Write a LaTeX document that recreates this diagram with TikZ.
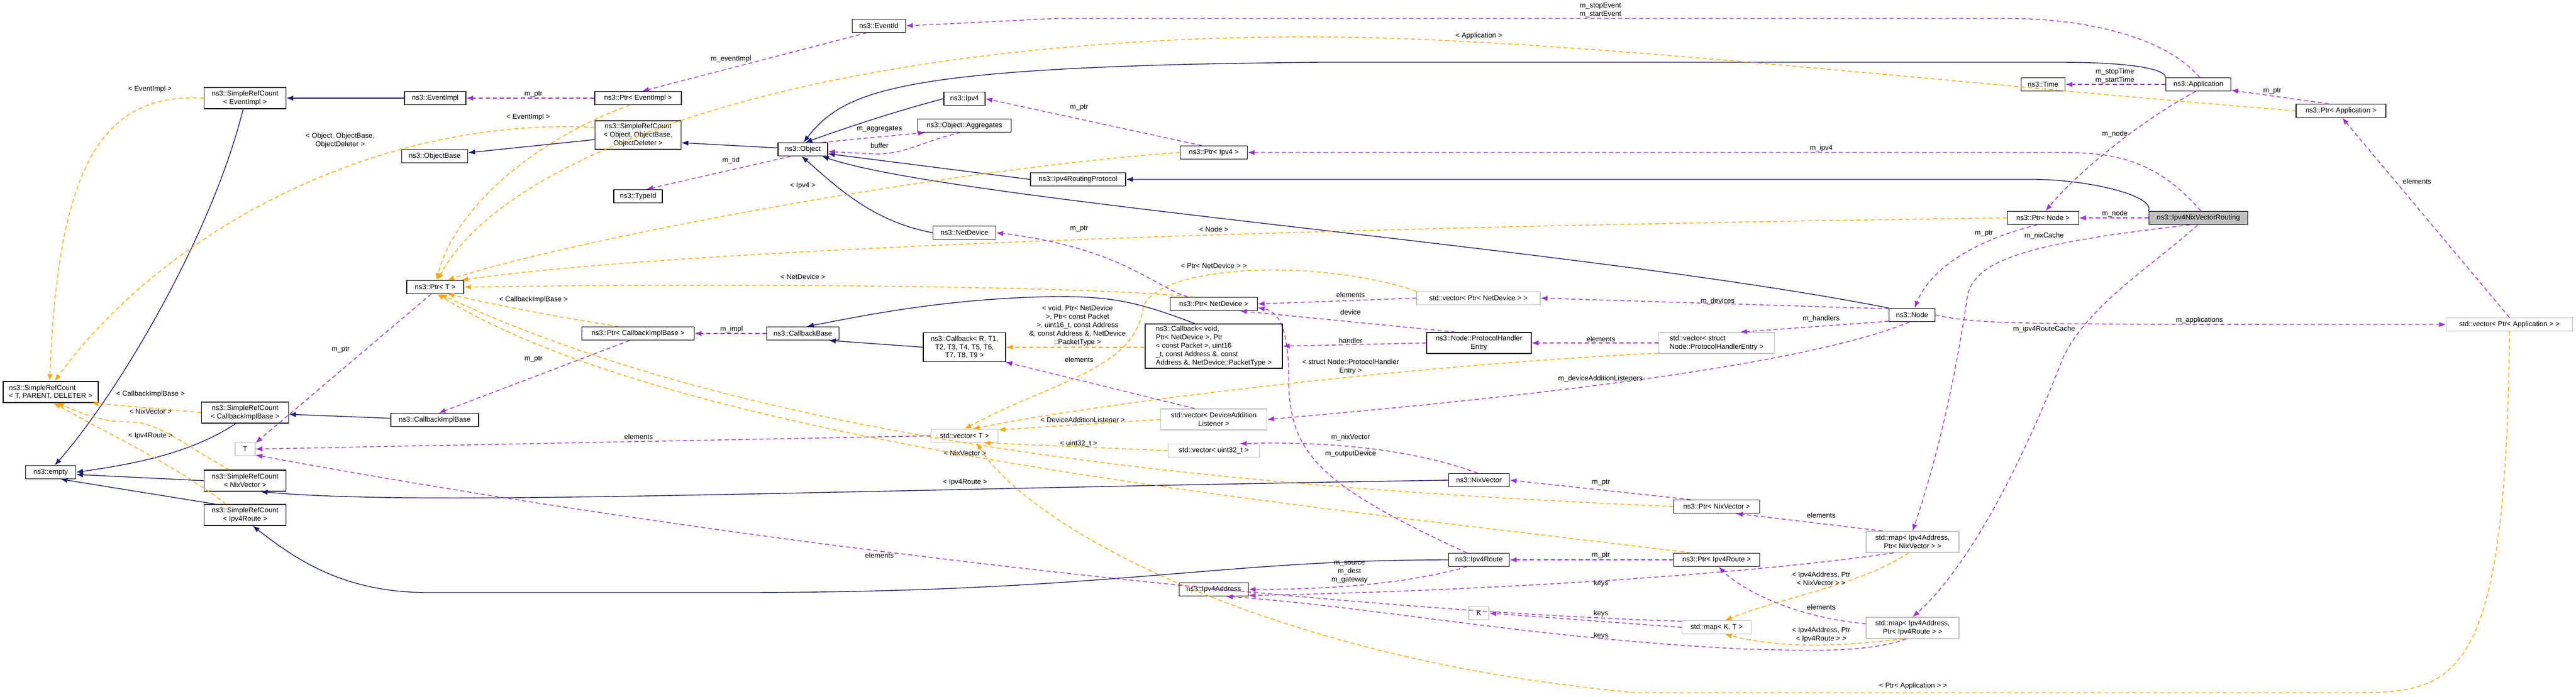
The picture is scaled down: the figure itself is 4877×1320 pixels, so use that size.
\documentclass[tikz,border=0pt]{standalone}
\usepackage{fontspec}
\setmainfont{Liberation Sans}
\usetikzlibrary{arrows.meta}
\definecolor{inhc}{HTML}{191970}
\definecolor{usec}{HTML}{9A32CD}
\definecolor{tplc}{HTML}{FFA500}
\definecolor{extc}{HTML}{BFBFBF}
\tikzset{
 cls/.style={draw=black,fill=white,line width=0.8pt,inner sep=0pt,align=center,font=\fontsize{7.6}{9}\selectfont},
 ext/.style={cls,draw=extc},
 mainc/.style={cls,fill=extc},
 wd/.style={minimum width=#1*0.02cm},
 ht/.style={minimum height=#1*0.02cm},
 lbl/.style={inner sep=0pt,align=center,font=\fontsize{7.6}{9}\selectfont},
 inh/.style={draw=inhc,line width=0.8pt,-{Latex[length=2.6mm,width=2mm]}},
 use/.style={draw=usec,line width=0.8pt,dash pattern=on 4.5pt off 3pt,-{Latex[length=2.6mm,width=2mm]}},
 tpl/.style={draw=tplc,line width=0.8pt,dash pattern=on 4.5pt off 3pt,-{Latex[length=2.6mm,width=2mm]}},
}
\begin{document}
\begin{tikzpicture}[x=0.02cm,y=-0.02cm]
\useasboundingbox[fill=white] (0,0) rectangle (4877,1320);
% nodes
\node[cls,wd=155,ht=40] (srcE) at (464,186) {ns3::SimpleRefCount\\< EventImpl >};
\node[cls,wd=116,ht=25] (eimpl) at (824,186) {ns3::EventImpl};
\node[cls,wd=125,ht=25] (obase) at (823,296) {ns3::ObjectBase};
\node[cls,wd=108,ht=25] (ptrT) at (824,544) {ns3::Ptr< T >};
\node[cls,wd=180,ht=40,align=left] (srcTPD) at (96,743) {ns3::SimpleRefCount\\< T, PARENT, DELETER >};
\node[cls,wd=165,ht=40] (srcCIB) at (464,782) {ns3::SimpleRefCount\\< CallbackImplBase >};
\node[cls,wd=166,ht=25] (cib) at (823,796) {ns3::CallbackImplBase};
\node[ext,wd=38,ht=25] (T) at (464,851) {T};
\node[cls,wd=95,ht=25] (empty) at (96,895) {ns3::empty};
\node[cls,wd=155,ht=40] (srcNix) at (464,911) {ns3::SimpleRefCount\\< NixVector >};
\node[cls,wd=155,ht=40] (srcRoute) at (464,976) {ns3::SimpleRefCount\\< Ipv4Route >};
\node[cls,wd=101,ht=25] (eventid) at (1664,49) {ns3::EventId};
\node[cls,wd=164,ht=25] (ptrEI) at (1208,186) {ns3::Ptr< EventImpl >};
\node[cls,wd=163,ht=54] (srcObj) at (1208,256) {ns3::SimpleRefCount\\< Object, ObjectBase,\\ObjectDeleter >};
\node[cls,wd=94,ht=25] (obj) at (1520,283) {ns3::Object};
\node[cls,wd=78,ht=25] (ipv4) at (1826,187) {ns3::Ipv4};
\node[cls,wd=177,ht=25] (aggr) at (1826,238) {ns3::Object::Aggregates};
\node[cls,wd=92,ht=25] (typeid) at (1208,372) {ns3::TypeId};
\node[cls,wd=119,ht=25] (netdev) at (1826,441) {ns3::NetDevice};
\node[cls,wd=180,ht=25] (irp) at (2041,340) {ns3::Ipv4RoutingProtocol};
\node[cls,wd=213,ht=25] (ptrCIB) at (1208,632) {ns3::Ptr< CallbackImplBase >};
\node[cls,wd=137,ht=25] (cbbase) at (1520,632) {ns3::CallbackBase};
\node[cls,wd=156,ht=55] (cbR) at (1826,658) {ns3::Callback< R, T1,\\T2, T3, T4, T5, T6,\\T7, T8, T9 >};
\node[ext,wd=127,ht=25] (vecT) at (1826,826) {std::vector< T >};
\node[cls,wd=127,ht=25] (ptrIpv4) at (2298,289) {ns3::Ptr< Ipv4 >};
\node[cls,wd=165,ht=25] (ptrND) at (2298,576) {ns3::Ptr< NetDevice >};
\node[cls,wd=260,ht=84,align=left] (cbV) at (2298,656) {ns3::Callback< void,\\ Ptr< NetDevice >, Ptr\\< const Packet >, uint16\\\_t, const Address \&, const\\ Address \&, NetDevice::PacketType >};
\node[ext,wd=234,ht=25] (vecPND) at (2799,565) {std::vector< Ptr< NetDevice > >};
\node[cls,wd=198,ht=40] (phe) at (2800,650) {ns3::Node::ProtocolHandler\\Entry};
\node[ext,wd=201,ht=40] (vecDAL) at (2298,795) {std::vector< DeviceAddition\\Listener >};
\node[ext,wd=173,ht=25] (vecU) at (2298,854) {std::vector< uint32\_t >};
\node[cls,wd=115,ht=25] (nix) at (2800,910) {ns3::NixVector};
\node[cls,wd=115,ht=25] (route) at (2800,1061) {ns3::Ipv4Route};
\node[cls,wd=131,ht=25] (addr) at (2298,1117) {ns3::Ipv4Address};
\node[ext,wd=38,ht=25] (K) at (2800,1162) {K};
\node[cls,wd=83,ht=25] (time) at (3868,160) {ns3::Time};
\node[cls,wd=135,ht=25] (ptrNode) at (3868,413) {ns3::Ptr< Node >};
\node[cls,wd=87,ht=25] (node) at (3620,597) {ns3::Node};
\node[ext,wd=219,ht=40,align=left] (vecPHE) at (3250,650) {std::vector< struct\\ Node::ProtocolHandlerEntry >};
\node[cls,wd=163,ht=25] (ptrNix) at (3250,960) {ns3::Ptr< NixVector >};
\node[cls,wd=163,ht=25] (ptrRoute) at (3250,1061) {ns3::Ptr< Ipv4Route >};
\node[ext,wd=176,ht=40] (mapNix) at (3621,1027) {std::map< Ipv4Address,\\Ptr< NixVector > >};
\node[ext,wd=176,ht=40] (mapRoute) at (3621,1190) {std::map< Ipv4Address,\\Ptr< Ipv4Route > >};
\node[ext,wd=131,ht=25] (mapKT) at (3250,1189) {std::map< K, T >};
\node[cls,wd=123,ht=25] (app) at (4162,160) {ns3::Application};
\node[cls,wd=170,ht=25] (ptrApp) at (4432,210) {ns3::Ptr< Application >};
\node[mainc,wd=187,ht=25] (nvr) at (4162,413) {ns3::Ipv4NixVectorRouting};
\node[ext,wd=239,ht=25] (vecApp) at (4751,615) {std::vector< Ptr< Application > >};

% inheritance
\draw[inh] (eimpl) -- (srcE);
\draw[inh] (srcE.-100) .. controls (400,450) and (220,750) .. (empty.60);
\draw[inh] (srcCIB.-130) .. controls (360,860) and (250,880) .. (empty.east);
\draw[inh] (cib) -- (srcCIB);
\draw[inh] (srcNix.west) -- (empty.-5);
\draw[inh] (srcRoute.160) -- (empty.-35);
\draw[inh] (nix.west) .. controls (1500,930) and (800,960) .. (srcNix.-35);
\draw[inh] (route.west) .. controls (2300,1061) and (2100,1123) .. (1400,1123) -- (810,1123) .. controls (650,1123) and (560,1060) .. (srcRoute.-55);
\draw[inh] (srcObj) -- (obase);
\draw[inh] (obj) -- (srcObj.-10);
\draw[inh] (ipv4.west) .. controls (1680,215) and (1580,250) .. (obj.70);
\draw[inh] (app.north west) .. controls (4100,130) and (4030,118) .. (3900,118) -- (2500,118) .. controls (1700,125) and (1600,170) .. (obj.85);
\draw[inh] (irp.west) -- (obj.-10);
\draw[inh] (node.north west) .. controls (3000,470) and (1800,380) .. (obj.-20);
\draw[inh] (netdev.west) .. controls (1650,420) and (1580,350) .. (obj.-100);
\draw[inh] (nvr.north west) .. controls (4080,370) and (3950,340) .. (3850,340) -- (irp.east);
\draw[inh] (cbR.west) -- (cbbase.-15);
\draw[inh] (cbV.130) .. controls (2150,570) and (2100,562) .. (2000,562) .. controls (1800,565) and (1650,595) .. (cbbase.60);

% template instances
\draw[tpl] (srcE.west) .. controls (200,176) and (110,300) .. (srcTPD.95);
\node[lbl] at (284,169) {< EventImpl >};
\draw[tpl] (srcObj.170) .. controls (700,220) and (300,450) .. (srcTPD.70);
\node[lbl] at (644,266) {< Object, ObjectBase,\\ObjectDeleter >};
\draw[tpl] (srcCIB.west) -- (srcTPD.-15);
\node[lbl] at (285,747) {< CallbackImplBase >};
\draw[tpl] (srcNix.145) .. controls (360,850) and (300,800) .. (250,800) .. controls (200,800) and (170,790) .. (srcTPD.-60);
\node[lbl] at (285,780) {< NixVector >};
\draw[tpl] (srcRoute.150) .. controls (330,880) and (200,820) .. (srcTPD.-75);
\node[lbl] at (285,826) {< Ipv4Route >};
\draw[tpl] (ptrEI.-140) .. controls (1000,270) and (860,400) .. (ptrT.80);
\node[lbl] at (1000,222) {< EventImpl >};
\draw[tpl] (ptrApp.west) .. controls (3600,150) and (2900,65) .. (2430,70) .. controls (1500,80) and (950,300) .. (ptrT.70);
\node[lbl] at (2800,68) {< Application >};
\draw[tpl] (ptrIpv4.west) .. controls (1800,320) and (1100,450) .. (ptrT.30);
\node[lbl] at (1520,352) {< Ipv4 >};
\draw[tpl] (ptrNode.west) .. controls (2500,430) and (1300,470) .. (ptrT.15);
\node[lbl] at (2298,435) {< Node >};
\draw[tpl] (ptrND.160) .. controls (2100,545) and (1500,535) .. (ptrT.east);
\node[lbl] at (1520,525) {< NetDevice >};
\draw[tpl] (ptrCIB.160) .. controls (1050,600) and (950,580) .. (ptrT.-30);
\node[lbl] at (1010,568) {< CallbackImplBase >};
\draw[tpl] (ptrNix.west) .. controls (2500,930) and (1500,870) .. (ptrT.-55);
\node[lbl] at (1827,859) {< NixVector >};
\draw[tpl] (ptrRoute.165) .. controls (2500,960) and (1300,850) .. (ptrT.-75);
\node[lbl] at (1827,914) {< Ipv4Route >};
\draw[tpl] (cbV.west |- cbR.east) -- (cbR.east);
\node[lbl] at (2040,617) {< void, Ptr< NetDevice\\>, Ptr< const Packet\\>, uint16\_t, const Address\\\&, const Address \&, NetDevice\\::PacketType >};
\draw[tpl] (vecPND.north west) .. controls (2500,490) and (2200,500) .. (2165,580) .. controls (2150,700) and (2000,720) .. (vecT.north);
\node[lbl] at (2298,504) {< Ptr< NetDevice > >};
\draw[tpl] (vecPHE.-170) .. controls (2700,690) and (2100,760) .. (vecT.40);
\node[lbl] at (2557,695) {< struct Node::ProtocolHandler\\Entry >};
\draw[tpl] (vecDAL.west) -- (vecT.10);
\node[lbl] at (2050,796) {< DeviceAdditionListener >};
\draw[tpl] (vecU.west) -- (vecT.-20);
\node[lbl] at (2042,841) {< uint32\_t >};
\draw[tpl] (vecApp.south) .. controls (4745,1300) and (4650,1313) .. (4450,1313) -- (3100,1313) .. controls (2400,1250) and (1950,1000) .. (vecT.-30);
\node[lbl] at (3622,1300) {< Ptr< Application > >};
\draw[tpl] (mapNix.-110) .. controls (3520,1110) and (3380,1130) .. (mapKT.40);
\node[lbl] at (3448,1097) {< Ipv4Address, Ptr\\< NixVector > >};
\draw[tpl] (mapRoute.-130) .. controls (3480,1225) and (3380,1230) .. (mapKT.-40);
\node[lbl] at (3448,1203) {< Ipv4Address, Ptr\\< Ipv4Route > >};

% usage
\draw[use] (ptrEI.west) -- (eimpl.east);
\node[lbl] at (1010,179) {m\_ptr};
\draw[use] (eventid.-150) -- (ptrEI.60);
\node[lbl] at (1384,112) {m\_eventImpl};
\draw[use] (app.80) .. controls (4100,70) and (3950,35) .. (3800,35) -- (2000,35) -- (eventid.east);
\node[lbl] at (3030,19) {m\_stopEvent\\m\_startEvent};
\draw[use] (obj.-150) -- (typeid.40);
\node[lbl] at (1384,304) {m\_tid};
\draw[use] (obj.20) -- (aggr.-170);
\node[lbl] at (1665,245) {m\_aggregates};
\draw[use] (aggr.-120) .. controls (1740,270) and (1720,290) .. (1660,292) -- (obj.-5);
\node[lbl] at (1665,276) {buffer};
\draw[use] (ptrIpv4.150) -- (ipv4.east);
\node[lbl] at (2043,204) {m\_ptr};
\draw[use] (nvr.70) .. controls (4080,300) and (4000,289) .. (3900,289) -- (ptrIpv4.east);
\node[lbl] at (3448,281) {m\_ipv4};
\draw[use] (ptrND.165) .. controls (2180,540) and (2120,470) .. (netdev.east);
\node[lbl] at (2043,434) {m\_ptr};
\draw[use] (ptrT.-120) -- (T.30);
\node[lbl] at (645,663) {m\_ptr};
\draw[use] (ptrCIB.-140) -- (cib.60);
\node[lbl] at (1010,681) {m\_ptr};
\draw[use] (cbbase.west) -- (ptrCIB.east);
\node[lbl] at (1385,624) {m\_impl};
\draw[use] (vecT.west) -- (T.east);
\node[lbl] at (1209,828) {elements};
\draw[use] (mapKT.170) .. controls (2600,1160) and (1500,1050) .. (T.-30);
\node[lbl] at (1665,1053) {elements};
\draw[use] (vecPND.west) -- (ptrND.east);
\node[lbl] at (2557,559) {elements};
\draw[use] (phe.155) -- (ptrND.-15);
\node[lbl] at (2557,592) {device};
\draw[use] (phe.west) -- (cbV.east);
\node[lbl] at (2557,646) {handler};
\draw[use] (node.165) -- (vecPND.east);
\node[lbl] at (3252,571) {m\_devices};
\draw[use] (node.-165) -- (vecPHE.25);
\node[lbl] at (3448,604) {m\_handlers};
\draw[use] (vecPHE.west) -- (phe.east);
\node[lbl] at (3031,643) {elements};
\draw[use] (node.-110) .. controls (3400,700) and (2800,760) .. (vecDAL.east);
\node[lbl] at (3030,718) {m\_deviceAdditionListeners};
\draw[use] (vecDAL.150) -- (cbR.-20);
\node[lbl] at (2043,682) {elements};
\draw[use] (nix.100) .. controls (2700,860) and (2550,835) .. (vecU.15);
\node[lbl] at (2557,829) {m\_nixVector};
\draw[use] (route.150) .. controls (2500,920) and (2440,860) .. (2440,720) .. controls (2440,620) and (2420,590) .. (ptrND.-5);
\node[lbl] at (2557,860) {m\_outputDevice};
\draw[use] (route.-150) .. controls (2650,1110) and (2500,1117) .. (addr.east);
\node[lbl] at (2555,1084) {m\_source\\m\_dest\\m\_gateway};
\draw[use] (ptrNix.165) -- (nix.east);
\node[lbl] at (3031,915) {m\_ptr};
\draw[use] (ptrRoute.west) -- (route.east);
\node[lbl] at (3031,1053) {m\_ptr};
\draw[use] (mapNix.160) -- (ptrNix.-20);
\node[lbl] at (3448,977) {elements};
\draw[use] (mapNix.-150) .. controls (3300,1090) and (2800,1120) .. (addr.-10);
\node[lbl] at (3031,1106) {keys};
\draw[use] (mapRoute.175) .. controls (3400,1170) and (3300,1120) .. (ptrRoute.-75);
\node[lbl] at (3448,1151) {elements};
\draw[use] (mapKT.west) -- (K.east);
\node[lbl] at (3031,1163) {keys};
\draw[use] (mapRoute.-120) .. controls (3530,1240) and (3400,1232) .. (3300,1230) .. controls (2900,1210) and (2600,1150) .. (addr.-30);
\node[lbl] at (3031,1205) {keys};
\draw[use] (app.west) -- (time.east);
\node[lbl] at (4004,144) {m\_stopTime\\m\_startTime};
\draw[use] (ptrApp.150) -- (app.-10);
\node[lbl] at (4302,173) {m\_ptr};
\draw[use] (app.-110) .. controls (4050,230) and (3930,330) .. (ptrNode.70);
\node[lbl] at (4004,254) {m\_node};
\draw[use] (nvr.west) -- (ptrNode.east);
\node[lbl] at (4004,405) {m\_node};
\draw[use] (ptrNode.-130) .. controls (3720,460) and (3650,520) .. (node.70);
\node[lbl] at (3756,443) {m\_ptr};
\draw[use] (nvr.-140) .. controls (3850,460) and (3740,490) .. (3725,560) .. controls (3690,800) and (3640,950) .. (mapNix.north);
\node[lbl] at (3870,447) {m\_nixCache};
\draw[use] (nvr.-95) .. controls (4080,500) and (3950,580) .. (3905,680) .. controls (3800,950) and (3700,1100) .. (mapRoute.north);
\node[lbl] at (3870,624) {m\_ipv4RouteCache};
\draw[use] (node.east) .. controls (3750,615) and (3800,615) .. (vecApp.west);
\node[lbl] at (4164,607) {m\_applications};
\draw[use] (vecApp.north) -- (ptrApp.-80);
\node[lbl] at (4576,344) {elements};
\end{tikzpicture}
\end{document}
